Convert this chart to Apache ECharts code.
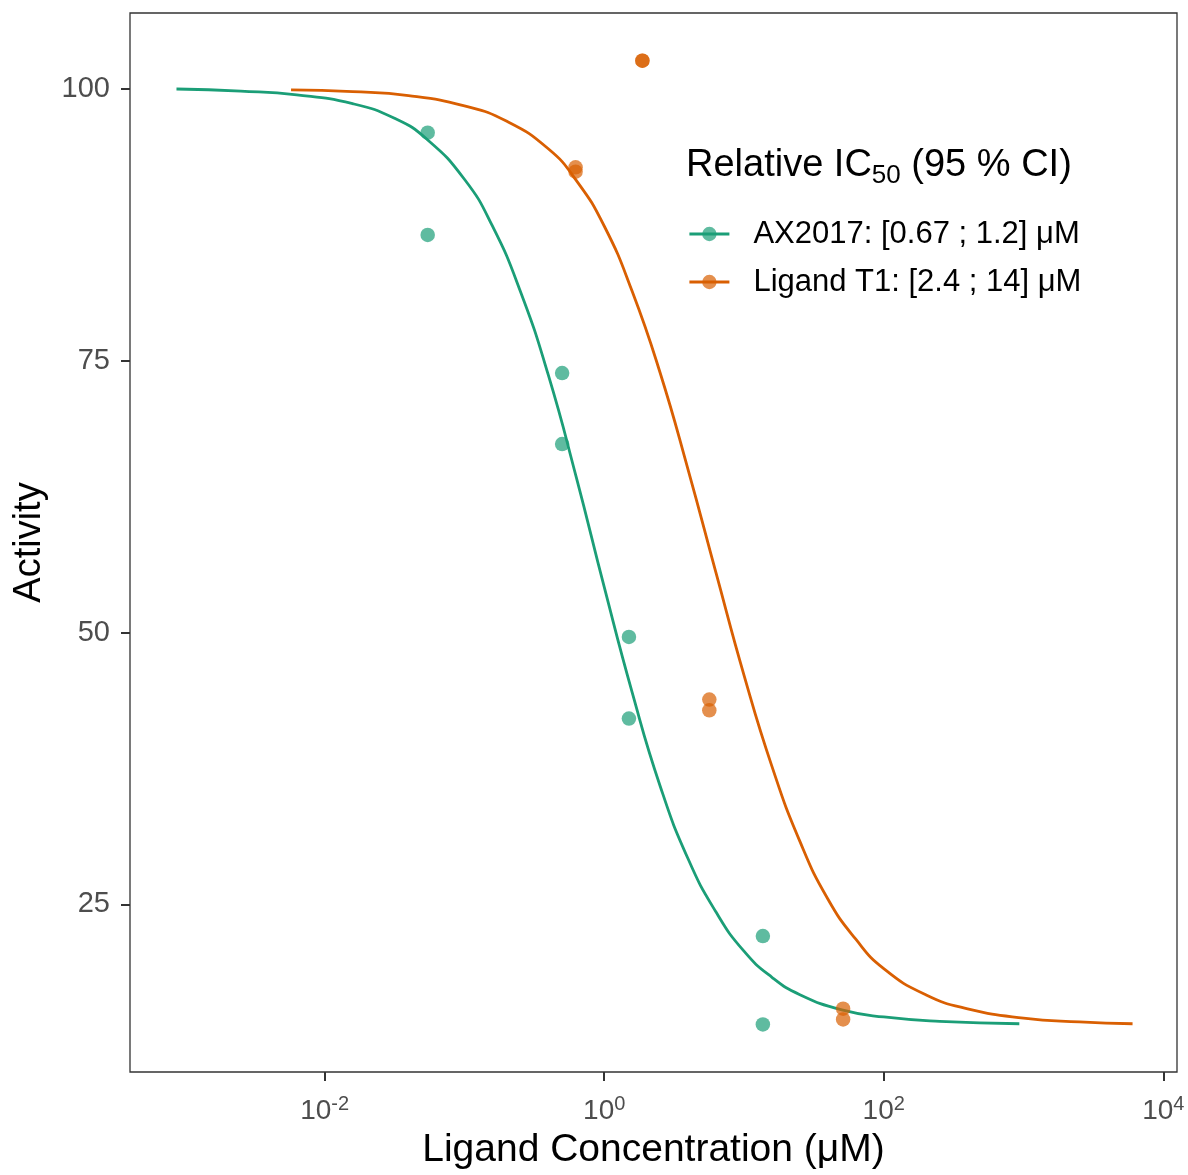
<!DOCTYPE html>
<html>
<head>
<meta charset="utf-8">
<script src="https://cdn.jsdelivr.net/npm/echarts@6/dist/echarts.min.js"></script>
<style>
  html, body { margin: 0; padding: 0; background: #ffffff; }
  #chart { width: 1188px; height: 1175px; }
</style>
</head>
<body>
<div id="chart"></div>
<script>
// ---------- data ----------
const seriesNames = ['AX2017: [0.67 ; 1.2] μM', 'Ligand T1: [2.4 ; 14] μM'];
const seriesColors = ['#1B9E77', '#D95F02'];

// measured points: [concentration µM, activity]
const axPoints = [
  [0.0546, 95.98], [0.0546, 86.58],
  [0.500, 73.87], [0.500, 67.34],
  [1.503, 49.60], [1.503, 42.10],
  [13.65, 22.09], [13.65, 13.97]
];
const t1Points = [
  [0.624, 92.8], [0.624, 92.4],
  [1.876, 102.6], [1.876, 102.6],
  [5.65, 43.84], [5.65, 42.86],
  [51.2, 15.41], [51.2, 14.43]
];

// fitted curves: [concentration µM, activity]
const axCurve = [
  [0.000871, 100.0], [0.00251, 99.8], [0.00631, 99.46], [0.01585, 98.65],
  [0.03162, 97.3], [0.0537, 95.4], [0.1, 91.7], [0.1585, 87.4],
  [0.2512, 81.4], [0.3981, 73.7], [0.631, 64.3], [1.0, 54.2],
  [1.585, 44.5], [2.512, 35.9], [3.981, 29.2], [6.31, 24.3],
  [10.0, 20.7], [15.85, 18.3], [25.12, 16.7], [50.12, 15.3],
  [100, 14.65], [251.2, 14.25], [933, 14.03]
];
const t1Curve = [
  [0.00575, 99.92], [0.01585, 99.76], [0.03981, 99.4], [0.1, 98.45],
  [0.1995, 97.05], [0.3981, 94.5], [0.631, 91.6], [1.0, 87.4],
  [1.585, 81.4], [2.512, 73.9], [3.981, 65.0], [6.31, 55.5],
  [10.0, 46.1], [15.85, 37.7], [25.12, 30.8], [39.81, 25.5],
  [63.1, 21.8], [100, 19.1], [199.5, 16.7], [398.1, 15.4],
  [1000, 14.55], [2512, 14.2], [6026, 14.03]
];

const xTickValues = [0.01, 1, 100, 10000];
const yTickValues = [25, 50, 75, 100];
const xRange = [0.000405, 12530];
const yRange = [9.59, 106.99];

const legendTitle = '{a|Relative IC}{b|50}{a| (95 % CI)}';
const xTitle = 'Ligand Concentration (μM)';
const yTitle = 'Activity';

// ---------- chart ----------
const FONT = '"Liberation Sans", Arial, Helvetica, sans-serif';
const chart = echarts.init(document.getElementById('chart'), null, { renderer: 'canvas' });

function lineSeries(name, data, color) {
  return {
    name: name, type: 'line', data: data, smooth: 0.5,
    symbol: 'circle', symbolSize: 14, showSymbol: false,
    lineStyle: { color: color, width: 2.8 },
    itemStyle: { color: color, opacity: 0.7 },
    z: 2, silent: true, animation: false
  };
}
function pointSeries(name, data, color) {
  return {
    name: name + ' pts', type: 'scatter', data: data,
    symbol: 'circle', symbolSize: 14.5,
    itemStyle: { color: color, opacity: 0.7 },
    z: 3, silent: true, animation: false
  };
}

const option = {
  backgroundColor: '#ffffff',
  animation: false,
  textStyle: { fontFamily: FONT },
  grid: {
    left: 130, right: 11, top: 13, bottom: 102.5,
    show: true, borderColor: '#333333', borderWidth: 1.3, backgroundColor: '#ffffff'
  },
  title: {
    text: legendTitle, left: 686, top: 143, padding: 0,
    textStyle: {
      fontWeight: 'normal',
      rich: {
        a: { fontFamily: FONT, fontWeight: 'normal', fontSize: 38, lineHeight: 46, color: '#000000' },
        b: { fontFamily: FONT, fontWeight: 'normal', fontSize: 26, lineHeight: 20, verticalAlign: 'bottom', color: '#000000' }
      }
    }
  },
  legend: {
    data: seriesNames, orient: 'vertical', left: 688, top: 217,
    itemWidth: 40, itemHeight: 18, itemGap: 14, padding: 0,
    selectedMode: false,
    lineStyle: { width: 2.8 },
    textStyle: { fontFamily: FONT, fontSize: 31, lineHeight: 34, color: '#000000', padding: [0, 0, 0, 19] }
  },
  xAxis: {
    type: 'log', logBase: 10, min: xRange[0], max: xRange[1],
    name: xTitle, nameLocation: 'middle', nameGap: 59,
    nameTextStyle: { fontFamily: FONT, fontSize: 39, color: '#000000' },
    axisLine: { show: false },
    splitLine: { show: false },
    axisTick: { show: true, inside: false, length: 9, lineStyle: { color: '#333333', width: 2 }, customValues: xTickValues },
    axisLabel: {
      customValues: xTickValues, margin: 22,
      formatter: function (v) {
        const e = Math.round(Math.log10(v));
        return '{b|10}{s|' + e + '}';
      },
      rich: {
        b: { fontFamily: FONT, fontSize: 28, lineHeight: 34, color: '#4D4D4D' },
        s: { fontFamily: FONT, fontSize: 20, lineHeight: 12, verticalAlign: 'top', color: '#4D4D4D' }
      }
    }
  },
  yAxis: {
    type: 'value', min: yRange[0], max: yRange[1],
    name: yTitle, nameLocation: 'middle', nameGap: 81, nameRotate: 90,
    nameTextStyle: { fontFamily: FONT, fontSize: 38, color: '#000000' },
    axisLine: { show: false },
    splitLine: { show: false },
    axisTick: { show: true, inside: false, length: 9, lineStyle: { color: '#333333', width: 2 }, customValues: yTickValues },
    axisLabel: { customValues: yTickValues, margin: 20, fontFamily: FONT, fontSize: 29, color: '#4D4D4D' }
  },
  series: [
    lineSeries(seriesNames[0], axCurve, seriesColors[0]),
    lineSeries(seriesNames[1], t1Curve, seriesColors[1]),
    pointSeries(seriesNames[0], axPoints, seriesColors[0]),
    pointSeries(seriesNames[1], t1Points, seriesColors[1])
  ]
};
chart.setOption(option);
</script>
</body>
</html>
